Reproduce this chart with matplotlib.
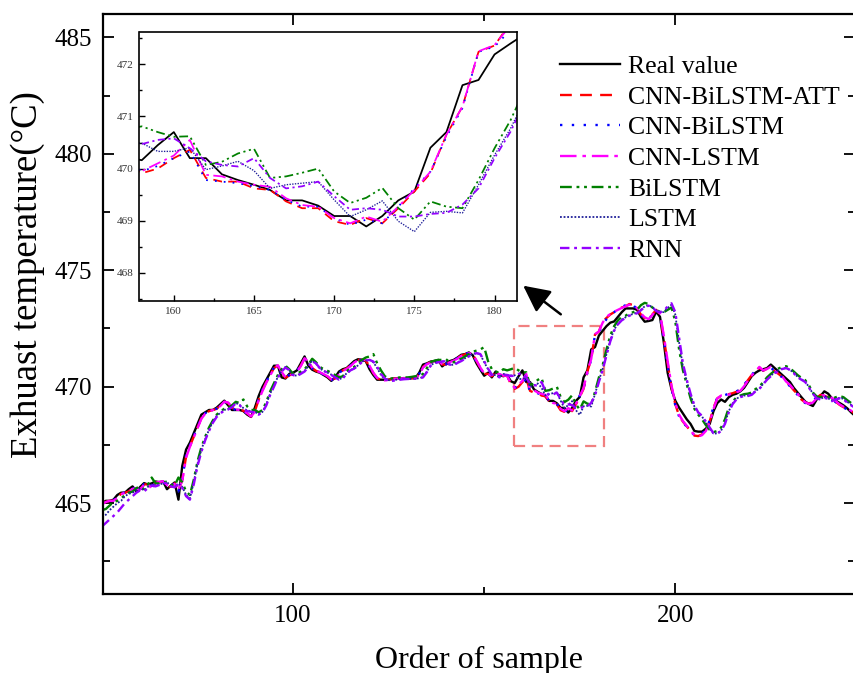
import matplotlib.pyplot as plt
import numpy as np
from matplotlib.patches import Rectangle

plt.rcParams['font.family'] = ['Liberation Serif', 'DejaVu Serif']

# Sample order shown on the x axis
samples = np.arange(50, 248)

real = [465.0, 465.1, 465.1, 465.15, 465.35, 465.45, 465.45, 465.6, 465.72, 465.5,
        465.7, 465.86, 465.8, 465.85, 465.93, 465.9, 465.93, 465.6, 465.75, 465.89,
        465.15, 466.6, 467.3, 467.6, 468.0, 468.4, 468.8, 468.9, 469.0, 469.0,
        469.1, 469.25, 469.4, 469.2, 469.0, 469.0, 469.0, 468.95, 468.8, 468.7,
        469.1, 469.6, 470.0, 470.3, 470.6, 470.9, 470.9, 470.4, 470.35, 470.55,
        470.6, 470.7, 471.0, 471.3, 470.9, 470.73, 470.65, 470.6, 470.5, 470.4,
        470.25, 470.4, 470.65, 470.75, 470.8, 470.95, 471.1, 471.18, 471.15, 471.1,
        470.75, 470.5, 470.3, 470.3, 470.3, 470.3, 470.35, 470.35, 470.35, 470.37,
        470.35, 470.37, 470.37, 470.6, 470.95, 471.0, 471.08, 471.1, 471.15, 470.87,
        471.0, 471.1, 471.15, 471.25, 471.37, 471.4, 471.47, 471.35, 471.0, 470.73,
        470.47, 470.6, 470.4, 470.65, 470.5, 470.45, 470.5, 470.23, 470.16, 470.45,
        470.70, 470.20, 470.20, 469.89, 469.78, 469.69, 469.59, 469.39, 469.39, 469.29,
        469.09, 469.09, 468.89, 469.09, 469.39, 469.56, 470.40, 470.70, 471.60, 471.70,
        472.19, 472.40, 472.6, 472.75, 472.8, 473.0, 473.2, 473.36, 473.36, 473.36,
        473.3, 473.0, 472.79, 472.82, 472.86, 473.22, 473.0, 471.9, 470.6, 469.9,
        469.4, 469.1, 468.85, 468.6, 468.4, 468.1, 468.07, 468.07, 468.2, 468.4,
        468.95, 469.3, 469.45, 469.35, 469.55, 469.65, 469.7, 469.8, 469.95, 470.2,
        470.45, 470.6, 470.7, 470.75, 470.8, 470.95, 470.8, 470.65, 470.5, 470.35,
        470.2, 469.95, 469.75, 469.55, 469.36, 469.25, 469.17, 469.45, 469.6, 469.8,
        469.7, 469.5, 469.4, 469.3, 469.2, 469.07, 468.9, 468.75]

cnn_bilstm_att = [465.0, 465.05, 465.1, 465.1, 465.25, 465.4, 465.45, 465.5, 465.65, 465.6,
                  465.6, 465.8, 465.82, 465.65, 465.88, 465.9, 465.92, 465.75, 465.7, 465.85,
                  465.55, 466.0, 467.0, 467.45, 467.85, 468.25, 468.65, 468.85, 468.95, 469.0,
                  469.05, 469.2, 469.35, 469.3, 469.1, 469.0, 469.0, 468.97, 468.85, 468.72,
                  468.95, 469.45, 469.85, 470.2, 470.5, 470.8, 470.9, 470.6, 470.38, 470.48,
                  470.58, 470.66, 470.9, 471.2, 471.05, 470.8, 470.68, 470.62, 470.53, 470.44,
                  470.3, 470.35, 470.55, 470.7, 470.78, 470.9, 471.05, 471.15, 471.16, 471.12,
                  470.88, 470.58, 470.36, 470.3, 470.28, 470.3, 470.33, 470.35, 470.35, 470.36,
                  470.36, 470.36, 470.37, 470.52, 470.85, 470.98, 471.05, 471.09, 471.13, 470.95,
                  470.95, 471.06, 471.13, 471.22, 471.33, 471.39, 471.45, 471.39, 471.1, 470.8,
                  470.55, 470.55, 470.45, 470.58, 470.53, 470.47, 470.48, 470.1, 469.91, 470.0,
                  470.2, 470.36, 469.82, 469.75, 469.75, 469.62, 469.59, 469.37, 469.24, 469.24,
                  468.99, 468.92, 469.05, 468.95, 469.24, 469.56, 469.91, 470.65, 471.19, 472.24,
                  472.36, 472.8, 472.95, 473.1, 473.2, 473.3, 473.4, 473.45, 473.55, 473.5,
                  473.35, 473.1, 472.95, 472.88, 473.1, 473.3, 473.1, 472.1, 471.0, 470.0,
                  469.25, 468.75, 468.5, 468.3, 468.1, 467.9, 467.88, 467.95, 468.14, 468.5,
                  469.1, 469.5, 469.6, 469.62, 469.68, 469.72, 469.78, 469.85, 470.05, 470.28,
                  470.5, 470.65, 470.82, 470.68, 470.78, 470.85, 470.65, 470.55, 470.42, 470.2,
                  470.05, 469.85, 469.68, 469.45, 469.32, 469.28, 469.35, 469.52, 469.65, 469.6,
                  469.55, 469.5, 469.35, 469.22, 469.12, 469.05, 468.95, 468.85]

cnn_bilstm = [465.02, 465.08, 465.12, 465.12, 465.28, 465.42, 465.46, 465.52, 465.66, 465.58,
              465.62, 465.82, 465.8, 465.7, 465.88, 465.9, 465.9, 465.72, 465.72, 465.85,
              465.5, 466.05, 467.05, 467.48, 467.88, 468.28, 468.66, 468.86, 468.96, 469.0,
              469.06, 469.22, 469.35, 469.28, 469.08, 469.0, 469.0, 468.96, 468.84, 468.74,
              468.98, 469.48, 469.88, 470.22, 470.52, 470.82, 470.88, 470.56, 470.38, 470.5,
              470.58, 470.68, 470.92, 471.18, 471.0, 470.78, 470.66, 470.6, 470.52, 470.42,
              470.28, 470.38, 470.58, 470.72, 470.78, 470.92, 471.06, 471.15, 471.15, 471.1,
              470.85, 470.55, 470.35, 470.3, 470.3, 470.3, 470.34, 470.35, 470.35, 470.36,
              470.35, 470.36, 470.37, 470.55, 470.88, 470.98, 471.06, 471.1, 471.13, 470.92,
              470.96, 471.07, 471.14, 471.23, 471.34, 471.4, 471.45, 471.37, 471.06, 470.78,
              470.52, 470.57, 470.44, 470.6, 470.52, 470.46, 470.49, 470.15, 469.95, 470.05,
              470.2, 470.33, 469.78, 469.75, 469.72, 469.66, 469.59, 469.4, 469.27, 469.27,
              469.05, 468.92, 469.02, 468.95, 469.27, 469.62, 469.94, 470.61, 471.16, 472.24,
              472.34, 472.66, 472.9, 473.08, 473.2, 473.32, 473.42, 473.5, 473.58, 473.5,
              473.32, 473.08, 472.92, 472.86, 473.12, 473.32, 473.05, 472.0, 470.9, 469.95,
              469.2, 468.72, 468.48, 468.28, 468.08, 467.92, 467.9, 467.98, 468.18, 468.55,
              469.15, 469.52, 469.62, 469.64, 469.7, 469.74, 469.8, 469.88, 470.08, 470.3,
              470.52, 470.68, 470.8, 470.7, 470.8, 470.83, 470.64, 470.52, 470.4, 470.18,
              470.02, 469.82, 469.65, 469.42, 469.3, 469.3, 469.38, 469.55, 469.66, 469.58,
              469.52, 469.48, 469.33, 469.2, 469.1, 469.03, 468.93, 468.83]

cnn_lstm = [464.95, 465.05, 465.1, 465.1, 465.22, 465.38, 465.45, 465.5, 465.62, 465.62,
            465.6, 465.78, 465.84, 465.62, 465.86, 465.92, 465.94, 465.78, 465.68, 465.82,
            465.6, 465.95, 466.95, 467.42, 467.82, 468.22, 468.62, 468.84, 468.94, 469.0,
            469.04, 469.18, 469.36, 469.32, 469.12, 469.02, 469.0, 468.98, 468.86, 468.72,
            468.92, 469.42, 469.82, 470.18, 470.48, 470.78, 470.92, 470.64, 470.4, 470.46,
            470.56, 470.64, 470.88, 471.22, 471.08, 470.82, 470.7, 470.62, 470.54, 470.45,
            470.32, 470.34, 470.52, 470.68, 470.76, 470.88, 471.04, 471.14, 471.18, 471.14,
            470.9, 470.6, 470.38, 470.3, 470.27, 470.29, 470.32, 470.34, 470.35, 470.36,
            470.36, 470.36, 470.37, 470.5, 470.82, 470.96, 471.04, 471.08, 471.12, 470.97,
            470.94, 471.05, 471.12, 471.2, 471.32, 471.38, 471.44, 471.4, 471.12, 470.82,
            470.57, 470.54, 470.47, 470.56, 470.54, 470.48, 470.47, 470.12, 469.95, 470.1,
            470.25, 470.55, 469.88, 469.85, 469.75, 469.69, 469.65, 469.43, 469.3, 469.27,
            469.05, 468.95, 469.08, 468.98, 469.27, 469.59, 469.94, 470.65, 471.19, 472.25,
            472.37, 472.75, 473.0, 473.12, 473.22, 473.3, 473.38, 473.45, 473.52, 473.48,
            473.38, 473.15, 472.98, 472.9, 473.08, 473.28, 473.15, 472.2, 471.1, 470.05,
            469.3, 468.8, 468.52, 468.32, 468.12, 467.92, 467.86, 467.92, 468.1, 468.45,
            469.05, 469.5, 469.62, 469.6, 469.66, 469.7, 469.76, 469.82, 470.02, 470.26,
            470.48, 470.66, 470.85, 470.7, 470.76, 470.86, 470.68, 470.56, 470.44, 470.22,
            470.08, 469.88, 469.7, 469.48, 469.33, 469.26, 469.32, 469.5, 469.64, 469.62,
            469.56, 469.52, 469.38, 469.24, 469.14, 469.06, 468.97, 468.87]

bilstm = [464.7, 464.75, 464.9, 465.05, 465.1, 465.2, 465.35, 465.45, 465.5, 465.65,
          465.7, 465.6, 465.8, 466.1, 465.85, 465.85, 465.9, 465.92, 465.8, 465.75,
          466.1, 465.9, 465.5, 465.35, 466.0, 466.8, 467.4, 467.85, 468.25, 468.55,
          468.8, 468.95, 469.05, 469.1, 469.2, 469.35, 469.3, 469.45, 469.15, 469.0,
          469.0, 468.9, 469.0, 469.35, 469.8, 470.15, 470.5, 470.75, 470.9, 470.75,
          470.55, 470.55, 470.65, 470.75, 470.95, 471.2, 471.05, 470.85, 470.75, 470.68,
          470.6, 470.5, 470.4, 470.45, 470.65, 470.8, 470.85, 471.0, 471.15, 471.25,
          471.3, 471.4, 471.0, 470.7, 470.45, 470.35, 470.35, 470.38, 470.4, 470.4,
          470.4, 470.42, 470.45, 470.45, 470.55, 470.8, 471.05, 471.12, 471.15, 471.15,
          471.18, 471.05, 471.05, 471.15, 471.2, 471.3, 471.4, 471.5, 471.55, 471.6,
          471.7, 471.1, 470.75, 470.65, 470.6, 470.75, 470.7, 470.75, 470.81, 470.7,
          470.61, 470.62, 470.07, 470.13, 470.29, 470.38, 469.82, 469.85, 469.92, 470.0,
          469.56, 469.34, 469.44, 469.63, 469.24, 469.02, 469.37, 469.27, 469.24, 469.78,
          470.39, 470.93, 471.6, 472.2, 472.6, 472.85, 473.0, 473.05, 473.15, 473.2,
          473.3, 473.5, 473.6, 473.55, 473.4, 473.3, 473.2, 473.2, 473.3, 473.4,
          472.8, 471.6, 470.7, 470.1, 469.5, 469.05, 468.8, 468.6, 468.35, 468.15,
          468.05, 468.1, 468.25, 468.6, 469.1, 469.35, 469.55, 469.62, 469.68, 469.7,
          469.75, 469.9, 470.0, 470.2, 470.4, 470.55, 470.68, 470.78, 470.85, 470.88,
          470.8, 470.65, 470.5, 470.38, 470.28, 470.05, 469.75, 469.58, 469.55, 469.6,
          469.55, 469.48, 469.55, 469.6, 469.55, 469.42, 469.3, 469.2]

lstm = [464.4, 464.5, 464.7, 464.85, 465.0, 465.1, 465.3, 465.4, 465.45, 465.55,
        465.65, 465.55, 465.7, 465.8, 465.75, 465.8, 465.85, 465.9, 465.75, 465.7,
        465.85, 465.7, 465.35, 465.2, 465.9, 466.7, 467.3, 467.75, 468.15, 468.5,
        468.75, 468.88, 469.0, 469.05, 469.15, 469.3, 469.22, 469.08, 468.98, 468.95,
        468.92, 468.82, 468.92, 469.25, 469.7, 470.05, 470.42, 470.68, 470.85, 470.68,
        470.48, 470.48, 470.58, 470.68, 470.88, 471.12, 470.98, 470.78, 470.68, 470.6,
        470.52, 470.42, 470.32, 470.38, 470.58, 470.72, 470.78, 470.92, 471.08, 471.12,
        471.15, 471.05, 470.8, 470.5, 470.32, 470.28, 470.28, 470.3, 470.32, 470.33,
        470.35, 470.35, 470.35, 470.36, 470.42, 470.65, 470.92, 471.02, 471.06, 471.08,
        471.08, 470.92, 470.95, 471.05, 471.12, 471.22, 471.32, 471.4, 471.45, 471.38,
        471.05, 470.75, 470.5, 470.5, 470.42, 470.55, 470.5, 470.48, 470.49, 470.33,
        470.33, 470.4, 469.98, 470.05, 470.14, 469.96, 469.62, 469.69, 469.72, 469.75,
        469.4, 469.08, 469.21, 469.38, 468.99, 468.79, 469.16, 469.18, 469.15, 469.69,
        470.26, 470.77, 471.4, 472.0, 472.45, 472.7, 472.88, 472.98, 473.08, 473.12,
        473.18, 473.3, 473.45, 473.5, 473.42, 473.28, 473.22, 473.2, 473.38, 473.52,
        473.1, 471.9, 470.85, 470.25, 469.65, 469.15, 468.88, 468.72, 468.45, 468.2,
        467.98, 468.0, 468.12, 468.45, 468.95, 469.28, 469.48, 469.58, 469.62, 469.62,
        469.68, 469.82, 469.92, 470.12, 470.32, 470.48, 470.6, 470.7, 470.78, 470.8,
        470.72, 470.6, 470.42, 470.32, 470.22, 469.98, 469.7, 469.52, 469.48, 469.55,
        469.5, 469.4, 469.48, 469.52, 469.48, 469.35, 469.22, 469.12]

rnn = [464.0, 464.15, 464.3, 464.45, 464.6, 464.8, 465.0, 465.15, 465.3, 465.45,
       465.55, 465.5, 465.65, 465.75, 465.72, 465.78, 465.85, 465.88, 465.72, 465.68,
       465.82, 465.65, 465.3, 465.15, 465.8, 466.6, 467.2, 467.7, 468.1, 468.45,
       468.7, 468.85, 468.98, 469.02, 469.12, 469.28, 469.2, 469.05, 468.95, 468.92,
       468.9, 468.8, 468.9, 469.2, 469.65, 470.0, 470.38, 470.65, 470.82, 470.72,
       470.5, 470.45, 470.55, 470.65, 470.85, 471.1, 471.0, 470.8, 470.68, 470.6,
       470.5, 470.4, 470.3, 470.35, 470.55, 470.7, 470.78, 470.9, 471.05, 471.12,
       471.15, 471.08, 470.85, 470.55, 470.35, 470.25, 470.25, 470.28, 470.3, 470.32,
       470.33, 470.34, 470.34, 470.35, 470.4, 470.62, 470.9, 471.0, 471.05, 471.08,
       471.1, 470.95, 470.92, 471.02, 471.1, 471.2, 471.3, 471.38, 471.44, 471.4,
       471.1, 470.78, 470.52, 470.48, 470.4, 470.52, 470.5, 470.46, 470.47, 470.55,
       470.58, 470.39, 470.14, 470.07, 470.04, 470.2, 469.82, 469.62, 469.66, 469.75,
       469.47, 469.21, 469.24, 469.21, 469.08, 469.08, 469.13, 469.15, 469.31, 469.62,
       470.2, 470.71, 471.35, 471.95, 472.4, 472.68, 472.85, 472.95, 473.05, 473.1,
       473.15, 473.28, 473.42, 473.48, 473.4, 473.25, 473.2, 473.25, 473.45, 473.58,
       473.2, 472.1, 471.0, 470.3, 469.7, 469.2, 468.9, 468.75, 468.5, 468.25,
       468.0, 467.98, 468.1, 468.4, 468.9, 469.25, 469.45, 469.55, 469.6, 469.6,
       469.65, 469.8, 469.9, 470.1, 470.3, 470.45, 470.58, 470.68, 470.76, 470.8,
       470.72, 470.58, 470.4, 470.3, 470.2, 469.95, 469.7, 469.5, 469.45, 469.52,
       469.48, 469.38, 469.45, 469.5, 469.45, 469.32, 469.2, 469.1]

names = ['Real value', 'CNN-BiLSTM-ATT', 'CNN-BiLSTM', 'CNN-LSTM', 'BiLSTM', 'LSTM', 'RNN']
series = [real, cnn_bilstm_att, cnn_bilstm, cnn_lstm, bilstm, lstm, rnn]
colors = ['black', '#FF0000', '#0000FF', '#FF00FF', '#008000', '#1F1F99', '#9400FF']
styles = ['-', (0, (5, 3.5)), (0, (1, 4)), (0, (7, 2.5, 1.5, 2.5)),
          (0, (5, 2, 1.2, 2, 1.2, 2)), (0, (1, 1)), (0, (4, 2, 1.2, 2))]
widths = [1.7, 1.7, 1.7, 1.7, 1.7, 1.3, 1.7]

# zoomed window
zoom_x = (157.86, 181.4)
zoom_y = (467.46, 472.62)

fig = plt.figure(figsize=(8.54, 6.73), dpi=100)
ax = fig.add_axes([103.3 / 854, 79 / 673, 752 / 854, 580 / 673])

for name, vals, c, ls, lw in zip(names, series, colors, styles, widths):
    ax.plot(samples, vals, color=c, linestyle=ls, linewidth=lw, label=name)

ax.set_xlim(50.34, 247.1)
ax.set_ylim(461.1, 486.0)
ax.set_xticks([100, 200])
ax.set_xticks([150], minor=True)
ax.set_yticks([465, 470, 475, 480, 485])
ax.set_yticks([462.5, 467.5, 472.5, 477.5, 482.5], minor=True)
ax.tick_params(which='both', direction='in', top=True, right=True, width=1.3,
               labelsize=18)
ax.tick_params(which='major', length=8, pad=8)
ax.tick_params(which='minor', length=5)
for sp in ax.spines.values():
    sp.set_linewidth(1.6)
ax.set_xlabel('Order of sample', fontsize=23, labelpad=13)
ax.set_ylabel('Exhuast temperature(°C)', fontsize=26.5)
ax.yaxis.set_label_coords(-0.077, 0.55)

ax.add_patch(Rectangle((zoom_x[0], zoom_y[0]), zoom_x[1] - zoom_x[0], zoom_y[1] - zoom_y[0],
                       fill=False, edgecolor='#F08080', linestyle=(0, (5, 3)), linewidth=1.6))

ax.legend(loc='upper left', bbox_to_anchor=(560 / 854, 1 - 55 / 673),
          bbox_transform=fig.transFigure, frameon=False, fontsize=18.5,
          handlelength=2.35, handletextpad=0.3, labelspacing=0.3, borderaxespad=0,
          borderpad=0)

fig.add_artist(plt.Annotation('', xy=(521 / 854, 1 - 284 / 673), xycoords='figure fraction',
                              xytext=(563 / 854, 1 - 316 / 673), textcoords='figure fraction',
                              arrowprops=dict(arrowstyle='-|>,head_length=0.9,head_width=0.45',
                                              color='black', lw=1.8, mutation_scale=18)))

# inset
axi = fig.add_axes([139.5 / 854, 1 - 301 / 673, 377.5 / 854, 269 / 673])
for vals, c, ls, lw in zip(series, colors, styles, widths):
    axi.plot(samples, vals, color=c, linestyle=ls, linewidth=lw * 0.75)
axi.set_xlim(*zoom_x)
axi.set_ylim(*zoom_y)
axi.set_xticks([160, 165, 170, 175, 180])
axi.set_xticks([162.5, 167.5, 172.5, 177.5], minor=True)
axi.set_yticks([468, 469, 470, 471, 472])
axi.set_yticks([467.5, 468.5, 469.5, 470.5, 471.5, 472.5], minor=True)
axi.tick_params(which='both', direction='in', labelsize=8, labelcolor='#333333', width=1)
axi.tick_params(which='major', length=4, pad=4)
axi.tick_params(which='minor', length=2)
for sp in axi.spines.values():
    sp.set_linewidth(1.2)

fig.savefig('out.png', dpi=100)
